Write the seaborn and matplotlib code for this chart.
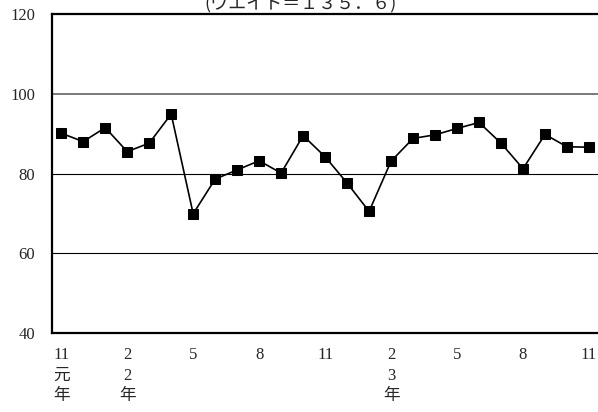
import matplotlib
matplotlib.use("Agg")
import matplotlib.pyplot as plt
import seaborn as sns
import pandas as pd

values = [90.1, 88.0, 91.5, 85.5, 87.6, 94.9, 69.9, 78.6, 80.9, 83.2, 80.1, 89.5, 84.2,
          77.6, 70.5, 83.1, 88.8, 89.7, 91.3, 92.8, 87.6, 81.2, 89.8, 86.7, 86.6]
tick_pos = [0, 3, 6, 9, 12, 15, 18, 21, 24]
tick_labels = ["11\n元\n年", "2\n2\n年", "5", "8", "11", "2\n3\n年", "5", "8", "11"]
y_ticks = [40, 60, 80, 100, 120]
title = "(ウエイト＝１３５．６)"

df = pd.DataFrame({"x": list(range(len(values))), "y": values})

sns.set_theme(style="white")
plt.rcParams['font.family'] = ['Liberation Serif', 'Noto Sans CJK JP']

W, H = 598, 412
fig = plt.figure(figsize=(W / 100, H / 100), dpi=100)
ax = fig.add_axes([52 / W, 1 - 333 / H, (600 - 52) / W, (333 - 14) / H])

ax.axhline(100, color="#7a7a7a", lw=1.4, zorder=1)
for g in [60, 80]:
    ax.axhline(g, color="black", lw=0.8, zorder=1)

sns.lineplot(data=df, x="x", y="y", ax=ax, color="black", lw=1.2,
             marker="s", markersize=6.5, markeredgecolor="black",
             markerfacecolor="black", zorder=3)

ax.set_xlim(-0.42, 24.5)
ax.set_ylim(40, 120)
ax.set_yticks(y_ticks)
ax.set_yticklabels([str(v) for v in y_ticks], fontsize=12)
ax.set_xticks(tick_pos)
ax.set_xticklabels(tick_labels, fontsize=12, va="top", linespacing=1.4)
ax.tick_params(axis="x", length=0, pad=10)
ax.tick_params(axis="y", length=0, pad=12)
ax.set_xticks([i + 0.5 for i in range(24)], minor=True)
ax.tick_params(axis="x", which="minor", direction="in", length=4, width=1, color="black")
ax.set_xlabel("")
ax.set_ylabel("")

for s in ["left", "bottom", "top"]:
    ax.spines[s].set_color("black")
    ax.spines[s].set_linewidth(1.6)
ax.spines["right"].set_visible(False)

fig.text(300 / W, 1 - 9 / H, title, ha="center", va="baseline", fontsize=13,
         family=['Noto Sans CJK JP', 'DejaVu Sans'])

fig.savefig("out.png", dpi=100)
